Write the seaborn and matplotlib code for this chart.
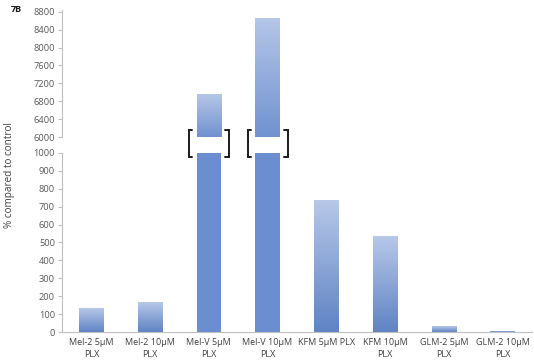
import numpy as np
import pandas as pd
import matplotlib
matplotlib.use("Agg")
import matplotlib.pyplot as plt
import seaborn as sns
from matplotlib.colors import LinearSegmentedColormap
from matplotlib.transforms import blended_transform_factory

categories = ["Mel-2 5µM\nPLX", "Mel-2 10µM\nPLX", "Mel-V 5µM\nPLX", "Mel-V 10µM\nPLX",
              "KFM 5µM PLX", "KFM 10µM\nPLX", "GLM-2 5µM\nPLX", "GLM-2 10µM\nPLX"]
values = [134, 162, 6960, 8660, 735, 535, 28, 3]
upper_ticks = [6000, 6400, 6800, 7200, 7600, 8000, 8400, 8800]
lower_ticks = [0, 100, 200, 300, 400, 500, 600, 700, 800, 900, 1000]

df = pd.DataFrame({"cat": categories, "val": values})

sns.set_style("white")
plt.rcParams['font.family'] = ['Open Sans', 'DejaVu Sans']

fig = plt.figure(figsize=(5.34, 3.64), dpi=100)
ax_up = fig.add_axes([0.116, 0.6236, 0.880, 0.350])
ax_lo = fig.add_axes([0.116, 0.0879, 0.880, 0.4918])

cmap = LinearSegmentedColormap.from_list("g", ["#5f83c4", "#b7c8e8"])
cmap_up = LinearSegmentedColormap.from_list("gu", ["#7192d0", "#b5c6e7"])
solid = "#6a8ecf"
grid_col = "#bfbfbf"

for ax, lim, ticks in [(ax_up, (6000, 8850), upper_ticks), (ax_lo, (0, 1000), lower_ticks)]:
    sns.barplot(data=df, x="cat", y="val", ax=ax, color="#6a8ecf", width=0.41,
                saturation=1, errorbar=None)
    ax.set_ylim(*lim)
    ax.set_xlim(-0.5, 7.5)
    ax.set_yticks(ticks)
    ax.set_yticklabels([str(t) for t in ticks])
    ax.set_xlabel("")
    ax.set_ylabel("")
    for s in ["top", "right"]:
        ax.spines[s].set_visible(False)
    ax.spines["left"].set_color(grid_col)
    ax.spines["bottom"].set_color(grid_col)
    ax.tick_params(axis="y", direction="out", length=3, width=0.8, color=grid_col,
                   labelsize=6.7, labelcolor="#595959", pad=2, left=True)
    for p, v in zip(ax.patches, values):
        x0 = p.get_x()
        x1 = x0 + p.get_width()
        ytop = min(v, lim[1])
        ybot = max(0, lim[0])
        if ytop <= ybot:
            continue
        p.set_facecolor("none")
        p.set_edgecolor("none")
        if v > lim[1]:
            ax.fill_between([x0, x1], ybot, ytop, color=solid, lw=0, zorder=2)
        else:
            grad = np.linspace(0, 1, 100).reshape(-1, 1)
            ax.imshow(grad, cmap=(cmap_up if ax is ax_up else cmap), origin="lower",
                      aspect="auto", extent=(x0, x1, ybot, ytop), zorder=2,
                      interpolation="bilinear")
    ax.set_xlim(-0.5, 7.5)
    ax.set_ylim(*lim)

ax_up.spines["bottom"].set_visible(False)
ax_up.set_xticks([])
ax_lo.set_xticks(range(len(categories)))
ax_lo.set_xticklabels(categories, fontsize=6.5, color="#404040", linespacing=1.5)
ax_lo.tick_params(axis="x", length=0, pad=4)

tr = blended_transform_factory(ax_lo.transData, fig.transFigure)
yb0, yb1 = (364 - 157) / 364, (364 - 130) / 364
for i in [2, 3]:
    for side in [-1, 1]:
        xe = i + side * 0.34
        xs = xe - side * 0.06
        ax_lo.plot([xs, xe, xe, xs], [yb1, yb1, yb0, yb0], transform=tr, color="#1a1a1a",
                   lw=1.4, clip_on=False, solid_joinstyle="miter")

fig.text(0.018, 0.52, "% compared to control", rotation=90, va="center", ha="center",
         fontsize=7.2, color="#404040")
fig.text(0.02, 0.985, "7B", fontsize=6.5, fontweight="bold", va="top", ha="left", color="#1a1a1a")

fig.savefig("out.png", dpi=100)
